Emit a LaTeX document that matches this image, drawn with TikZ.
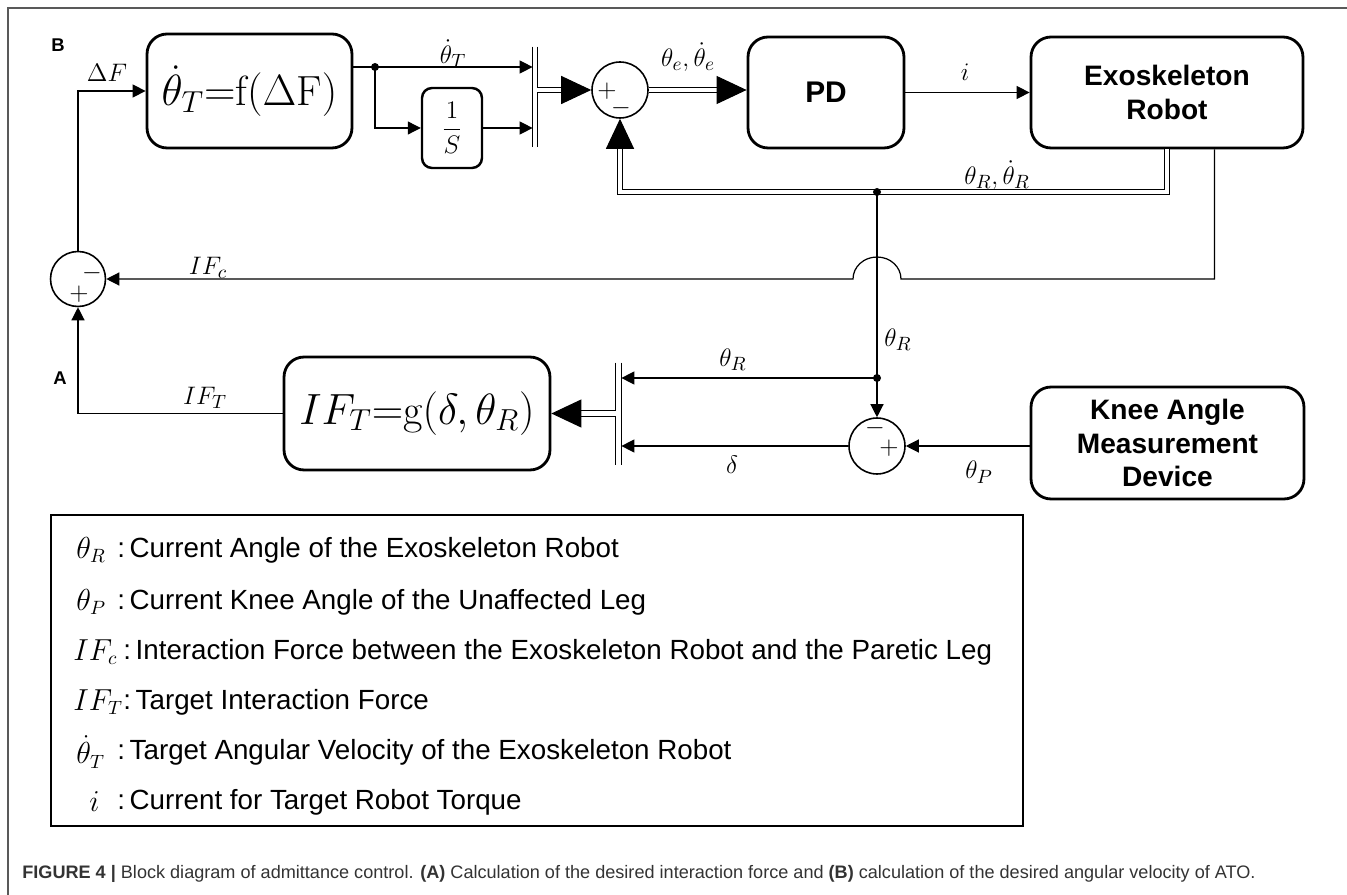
\documentclass[tikz,border=0pt]{standalone}
\usepackage{fontspec}
\setsansfont{Liberation Sans}
\usetikzlibrary{arrows.meta,calc}

\tikzset{
  block/.style={draw, line width=1.6pt, rounded corners=0.4cm, inner sep=0pt},
  sumnode/.style={draw, circle, line width=0.9pt, minimum size=1.12cm, inner sep=0pt},
  wire/.style={line width=0.7pt},
  sig/.style={wire, -{Triangle[length=0.26cm, width=0.26cm]}},
  dbl/.style={double, double distance=2.4pt, line width=0.6pt, -{Triangle[length=0.6cm, width=0.56cm]}},
  lbl/.style={font=\fontsize{15}{18}\selectfont},
  sgn/.style={font=\fontsize{15}{18}\selectfont, inner sep=0pt},
  boxtext/.style={font=\sffamily\bfseries\fontsize{16}{19}\selectfont, align=center},
  tag/.style={font=\sffamily\bfseries\fontsize{10.5}{12}\selectfont},
}

\begin{document}
\begin{tikzpicture}[x=0.02cm, y=-0.02cm]
  \useasboundingbox (0,0) rectangle (1347,895);

  % Frame
  \draw[gray!70!black, line width=1pt] (8,895) -- (8,8) -- (1347,8);

  % Part B: angular velocity loop
  \node[tag] (tagB) at (58,45) {B};
  \node[block, minimum width=4.1cm, minimum height=2.28cm] (fbox) at (249.5,91)
    {\fontsize{24}{28}\selectfont $\dot{\theta}_T{=}\mathrm{f}(\Delta\mathrm{F})$};
  \node[block, rounded corners=0.2cm, line width=1.4pt, minimum width=1.2cm, minimum height=1.6cm] (sbox) at (452,128)
    {\fontsize{15}{18}\selectfont $\displaystyle\frac{1}{S}$};
  \node[inner sep=0pt, minimum width=0.08cm, minimum height=2cm] (barT) at (535,97) {};
  \draw[wire] (barT.north west) -- (barT.south west) (barT.north east) -- (barT.south east);
  \node[sumnode] (sumt) at (620,90) {};
  \node[sgn] (sumtp) at ($(sumt)+(-13,1)$) {$+$};
  \node[sgn] (sumtm) at ($(sumt)+(1,18)$) {$-$};
  \node[block, minimum width=3.12cm, minimum height=2.22cm] (pd) at (826,92.5) {\fontsize{17}{20}\selectfont\sffamily\bfseries PD};
  \node[block, boxtext, minimum width=5.44cm, minimum height=2.22cm] (exo) at (1167,92.5) {Exoskeleton\\Robot};

  \coordinate (jT) at (375,67);
  \coordinate (jR) at (877,192);
  \coordinate (jP) at (877,378);

  \draw[wire] (fbox.east |- jT) -- (jT);
  \draw[sig] (jT) -- (barT.west |- jT);
  \draw[sig] (jT) |- (sbox.west);
  \draw[sig] (sbox.east) -- (barT.west |- sbox.east);
  \draw[dbl] (barT.east |- sumt.west) -- (sumt.west);
  \draw[dbl] (sumt.east) -- (pd.west |- sumt.east);
  \draw[sig] (pd.east) -- (exo.west);
  \draw[dbl] (exo.south) |- (jR) -| (sumt.south);

  \node[lbl] (lDF) at (107,73) {$\Delta F$};
  \node[lbl] (lthT) at (453,54) {$\dot{\theta}_T$};
  \node[lbl] (lthe) at (688,57) {$\theta_e,\dot{\theta}_e$};
  \node[lbl] (li) at (965,72) {$i$};
  \node[lbl] (lthR) at (997,175) {$\theta_R,\dot{\theta}_R$};

  % Part A: interaction force loop
  \node[sumnode, minimum size=1.1cm] (sumc) at (78,279) {};
  \node[sgn] (sumcm) at ($(sumc)+(14,-6)$) {$-$};
  \node[sgn] (sumcp) at ($(sumc)+(1,15)$) {$+$};
  \node[tag] (tagA) at (60,378) {A};
  \node[block, minimum width=5.32cm, minimum height=2.26cm] (gbox) at (417,413.5)
    {\fontsize{24}{28}\selectfont $IF_T{=}\mathrm{g}(\delta,\theta_R)$};
  \node[inner sep=0pt, minimum width=0.1cm, minimum height=2.04cm] (barB) at (618.5,414) {};
  \draw[wire] (barB.north west) -- (barB.south west) (barB.north east) -- (barB.south east);
  \node[sumnode] (sump) at (877,446) {};
  \node[sgn] (sumpm) at ($(sump)+(-2,-18)$) {$-$};
  \node[sgn] (sumpp) at ($(sump)+(12,2)$) {$+$};
  \node[block, boxtext, minimum width=5.46cm, minimum height=2.24cm] (knee) at (1167.5,443)
    {Knee Angle\\Measurement\\Device};

  \coordinate (exoR) at ($(exo.south east)+(-90,0)$);
  \draw[sig] (exoR) -- (exoR |- sumc.east) -- ($(jR |- sumc.east)+(0.48cm,0)$)
    arc[start angle=0, end angle=180, x radius=0.48cm, y radius=0.44cm] -- (sumc.east);
  \draw[wire] (jR) -- (jP);
  \draw[sig] (jP) -- (sump.north);
  \draw[sig] (jP) -- (barB.east |- jP);
  \draw[sig] (sump.west) -- (barB.east |- sump.west);
  \draw[sig] (knee.west |- sump.east) -- (sump.east);
  \draw[dbl] (barB.west |- gbox.east) -- (gbox.east);
  \draw[sig] (gbox.west) -| (sumc.south);
  \draw[sig] (sumc.north) |- (fbox.west);

  \fill (jT) circle (0.08cm) (jR) circle (0.08cm) (jP) circle (0.08cm);

  \node[lbl] (lIFc) at (208,268) {$IF_c$};
  \node[lbl] (lIFT) at (205,398) {$IF_T$};
  \node[lbl] (lthRv) at (898,340) {$\theta_R$};
  \node[lbl] (lthRh) at (733,360) {$\theta_R$};
  \node[lbl] (ldel) at (732,465) {$\delta$};
  \node[lbl] (lthP) at (979,472) {$\theta_P$};

  % Legend
  \draw[line width=1.1pt] (51,515) rectangle (1023,826);
  \foreach \y/\x/\sym/\tx/\txt in {
      550/76/{\theta_R}/117/{Current Angle of the Exoskeleton Robot},
      602/76/{\theta_P}/117/{Current Knee Angle of the Unaffected Leg},
      652/73/{IF_c}/123/{Interaction Force between the Exoskeleton Robot and the Paretic Leg},
      702/73/{IF_T}/123/{Target Interaction Force},
      752/76/{\dot{\theta}_T}/117/{Target Angular Velocity of the Exoskeleton Robot},
      802/89/{i}/117/{Current for Target Robot Torque}} {
    \node[anchor=west, inner sep=0pt, font=\fontsize{16}{19}\selectfont] (sym\y) at (\x,\y) {$\sym$};
    \node[anchor=west, inner sep=0pt, font=\sffamily\fontsize{15.8}{18}\selectfont] (txt\y) at (\tx,\y) {:\,\txt};
  }

  % Caption
  \node[anchor=west, inner sep=0pt, text=black!80, font=\sffamily\fontsize{10.3}{12}\selectfont] (caption) at (22,874)
    {\textbf{FIGURE 4} \textbf{|} Block diagram of admittance control. \textbf{(A)} Calculation of the desired interaction force and \textbf{(B)} calculation of the desired angular velocity of ATO.};
\end{tikzpicture}
\end{document}
